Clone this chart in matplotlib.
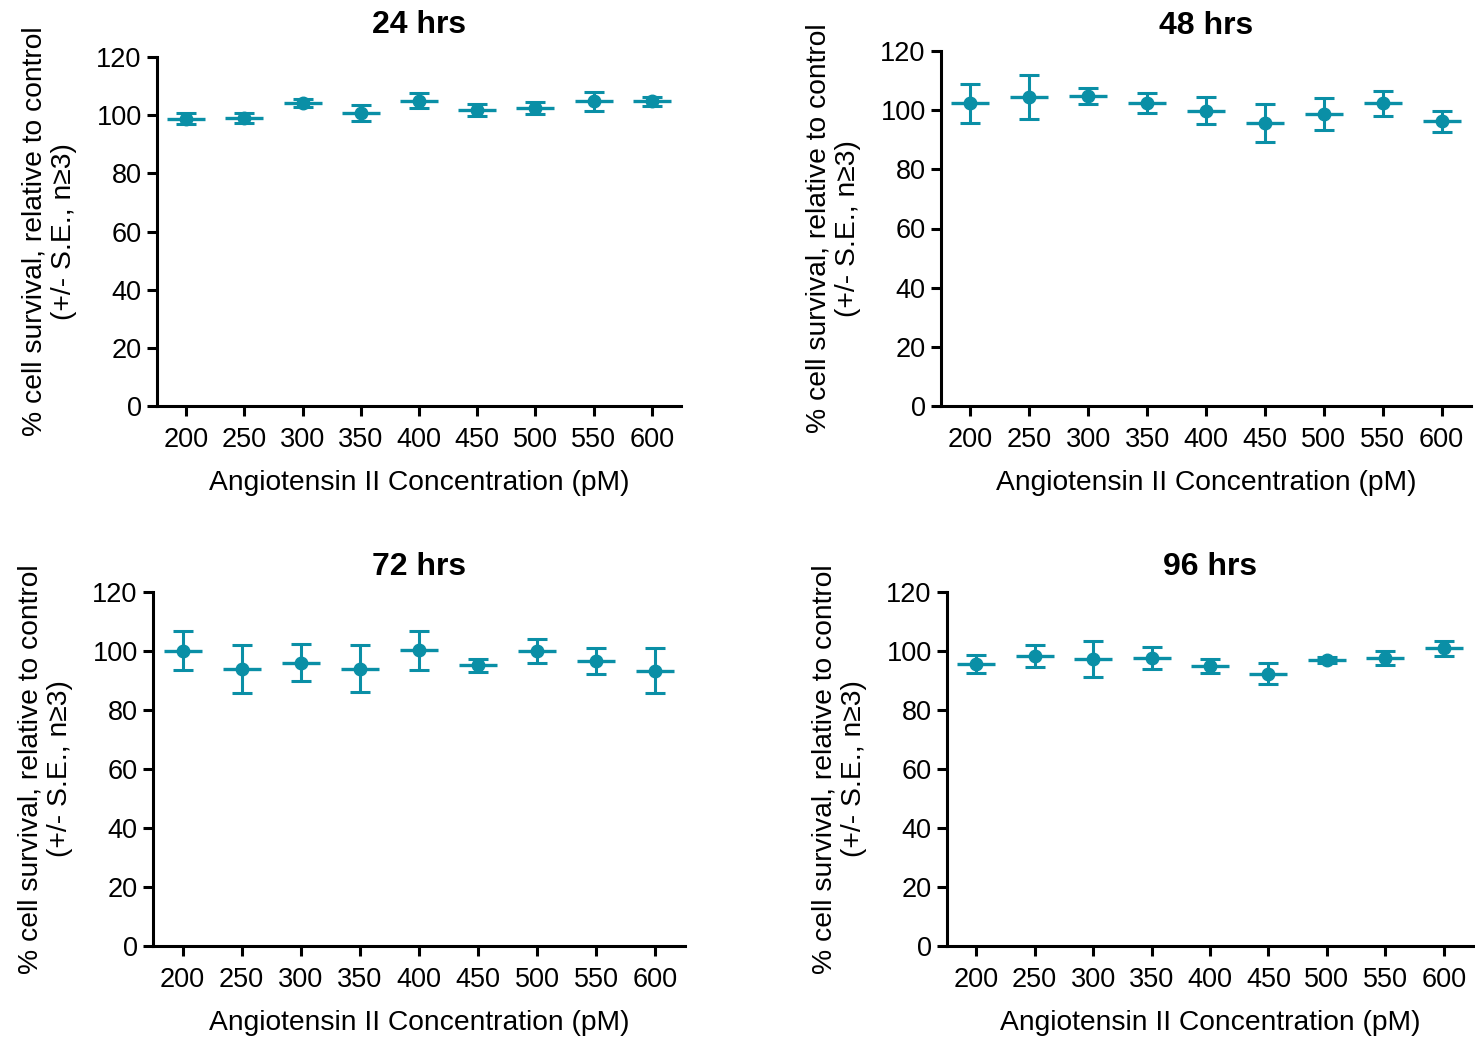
import matplotlib
matplotlib.use("Agg")
import matplotlib.pyplot as plt
import numpy as np

plt.rcParams["font.family"] = ["Liberation Sans", "DejaVu Sans"]

# Концентрации ангиотензина II, пМ
concentrations = ["200", "250", "300", "350", "400", "450", "500", "550", "600"]

# Выживаемость клеток (% от контроля) и стандартная ошибка
mean_24 = [98.8, 99.0, 104.1, 100.8, 105.0, 101.8, 102.5, 104.8, 104.8]
se_24 = [1.8, 1.7, 1.3, 2.7, 2.6, 2.2, 2.0, 3.2, 1.5]

mean_48 = [102.3, 104.4, 104.8, 102.3, 99.8, 95.8, 98.7, 102.3, 96.2]
se_48 = [6.6, 7.4, 2.8, 3.4, 4.6, 6.4, 5.3, 4.3, 3.5]

mean_72 = [100.1, 93.8, 96.0, 94.0, 100.3, 95.2, 100.1, 96.7, 93.3]
se_72 = [6.7, 8.1, 6.3, 8.0, 6.6, 2.2, 4.0, 4.4, 7.6]

mean_96 = [95.7, 98.4, 97.3, 97.5, 95.0, 92.3, 97.0, 97.7, 100.9]
se_96 = [3.0, 3.7, 6.0, 3.7, 2.3, 3.6, 1.0, 2.4, 2.5]

titles = ["24 hrs", "48 hrs", "72 hrs", "96 hrs"]
means = [mean_24, mean_48, mean_72, mean_96]
errors = [se_24, se_48, se_72, se_96]

color = "#0a8fa6"
W, H = 1475, 1042

# Положение осей в пикселях: левый край, правый край, низ, верх
boxes = [
    (157, 681, 406, 57),
    (941, 1471, 406, 51),
    (153, 685, 946, 592),
    (947, 1473, 946, 592),
]
# Отступ заголовка над осями, пт
title_pads = [17, 12.5, 12, 12]

fig = plt.figure(figsize=(W / 100, H / 100), dpi=100)

for (left, right, bottom, top), title, pad, mean, se in zip(
        boxes, titles, title_pads, means, errors):
    ax = fig.add_axes([left / W, (H - bottom) / H, (right - left) / W, (bottom - top) / H])
    x = np.arange(len(concentrations))

    # Усы ошибок, линия среднего и точка
    ax.errorbar(x, mean, yerr=se, fmt="none", ecolor=color, elinewidth=2.2,
                capsize=7.2, capthick=2.2, zorder=2)
    ax.plot(x, mean, linestyle="none", marker="_", markersize=27,
            markeredgewidth=2.4, color=color, zorder=3)
    ax.plot(x, mean, linestyle="none", marker="o", markersize=9,
            color=color, zorder=4)

    ax.set_xlim(-0.5, len(concentrations) - 0.5)
    ax.set_ylim(0, 120)
    ax.set_yticks(range(0, 121, 20))
    ax.set_xticks(x)
    ax.set_xticklabels(concentrations)

    for side in ("top", "right"):
        ax.spines[side].set_visible(False)
    for side in ("left", "bottom"):
        ax.spines[side].set_linewidth(2.2)

    ax.tick_params(axis="both", width=2.2, length=7, labelsize=19.5, colors="black")
    ax.tick_params(axis="x", pad=8)
    ax.tick_params(axis="y", pad=4)

    ax.set_title(title, fontsize=23, fontweight="bold", pad=pad)
    ax.set_xlabel("Angiotensin II Concentration (pM)", fontsize=20.3, labelpad=12)
    ax.set_ylabel("% cell survival, relative to control\n(+/- S.E., n\u22653)",
                  fontsize=20.3, labelpad=14, linespacing=1.15)

fig.savefig("out.png", dpi=100)
